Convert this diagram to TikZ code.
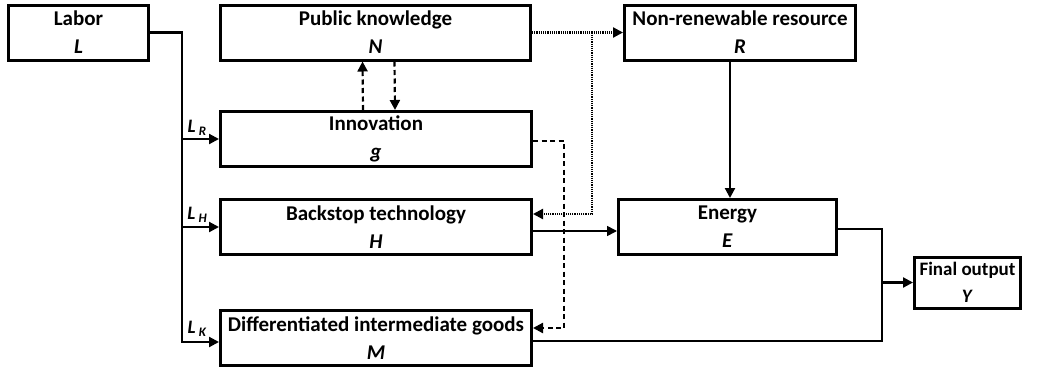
\documentclass[tikz,border=0pt]{standalone}
\usepackage{fontspec}
\setmainfont{Carlito}
\usetikzlibrary{arrows.meta}
\tikzset{
  box/.style={draw, line width=3pt, minimum height=55pt, inner sep=0pt,
    align=center, font=\fontsize{21}{28}\selectfont\bfseries},
  arr/.style={line width=2.2pt, -{Triangle[length=10pt,width=10pt]}},
  dasharr/.style={arr, dash pattern=on 5pt off 3.5pt},
  dotarr/.style={arr, dash pattern=on 1.2pt off 1pt},
  lbl/.style={font=\fontsize{19}{20}\selectfont\bfseries, inner sep=0pt}
}
\newcommand{\sub}[2]{\textit{#1}\,\raisebox{-3pt}{\fontsize{13}{13}\selectfont\textit{#2}}}
\begin{document}
\begin{tikzpicture}[x=1pt,y=-1pt]
\useasboundingbox (0,0) rectangle (1052,370);
% boxes
\node[box, minimum width=140pt] (lab) at (78.5,32.5) {Labor\\\textit{L}};
\node[box, minimum width=310pt] (pk) at (375.5,32.5) {Public knowledge\\\textit{N}};
\node[box, minimum width=231pt] (nr) at (740,32.5) {Non-renewable resource\\\textit{R}};
\node[box, minimum width=311pt] (inn) at (376,139) {Innovation\\\textit{g}};
\node[box, minimum width=311pt] (bs) at (376,227) {Backstop technology\\\textit{H}};
\node[box, minimum width=311pt] (dg) at (376,338) {Differentiated intermediate goods\\\textit{M}};
\node[box, minimum width=218pt] (en) at (727.5,227) {Energy\\\textit{E}};
\node[box, minimum width=106pt, minimum height=51pt,
  font=\fontsize{19}{27}\selectfont\bfseries] (fo) at (967.5,282.5) {Final output\\\textit{Y}};
% labor
\coordinate (bus) at (182,342);
\draw[arr] (lab.east) -| (bus) -- ([yshift=-4pt]dg.west);
\draw[arr] (bus |- inn.west) -- (inn.west);
\draw[arr] (bus |- bs.west) -- (bs.west);
\node[lbl] (lr) at (197,128) {\sub{L}{R}};
\node[lbl] (lh) at (197,215) {\sub{L}{H}};
\node[lbl] (lk) at (197,329) {\sub{L}{K}};
% knowledge and innovation
\draw[dasharr] ([xshift=-13pt]inn.north) -- ([xshift=-13pt]pk.south);
\draw[dasharr] ([xshift=19pt]pk.south) -- ([xshift=19pt]inn.north);
\draw[dasharr] ([yshift=-2pt]inn.east) -- ++(31,0) |- ([yshift=10pt]dg.east);
\coordinate (kn) at (592,32.5);
\draw[dotarr] (pk.east) -- (nr.west);
\draw[dotarr] (kn) |- ([yshift=13pt]bs.east);
% energy
\draw[arr] ([xshift=2.5pt]en.north |- nr.south) -- ([xshift=2.5pt]en.north);
\draw[arr, line width=1.6pt] ([yshift=-4pt]bs.east) -- ([yshift=-4pt]en.west);
\coordinate (jn) at (882,282.5);
\draw[line width=1.8pt] ([yshift=-2pt]en.east) -| (jn) |- ([yshift=-3pt]dg.east);
\draw[arr] (jn) -- (fo.west);
\end{tikzpicture}
\end{document}
